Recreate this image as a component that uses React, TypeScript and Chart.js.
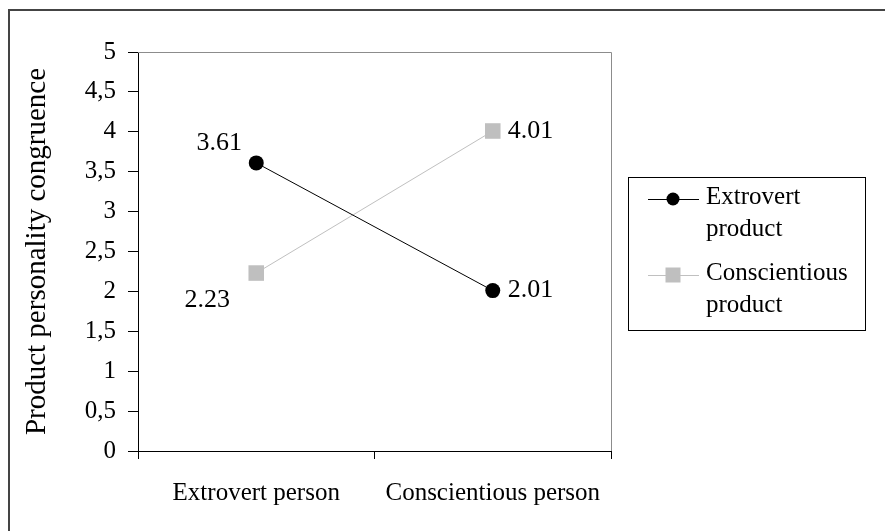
import React, { useEffect, useRef } from 'react';
import { Chart, registerables } from 'chart.js';

Chart.register(...registerables);

const categories = ['Extrovert person', 'Conscientious person'];
const seriesNames = ['Extrovert product', 'Conscientious product'];
const extrovertProduct = [3.61, 2.01];
const conscientiousProduct = [2.23, 4.01];
const yTickLabels = ['0', '0,5', '1', '1,5', '2', '2,5', '3', '3,5', '4', '4,5', '5'];
const axisTitle = 'Product personality congruence';

const FONT = "'Liberation Serif', 'Times New Roman', serif";

// label placement styling per dataset / point
const labelPlacement = [
  [{ dx: -37, dy: -20, align: 'center' }, { dx: 15, dy: 0, align: 'left' }],
  [{ dx: -49, dy: 27, align: 'center' }, { dx: 15, dy: 0, align: 'left' }],
];

const decorPlugin = {
  id: 'decor',
  beforeDraw(chart: any) {
    const ctx = chart.ctx;
    ctx.save();
    ctx.fillStyle = '#fff';
    ctx.fillRect(0, 0, chart.width, chart.height);
    ctx.strokeStyle = '#444';
    ctx.lineWidth = 2;
    ctx.beginPath();
    ctx.moveTo(9, chart.height);
    ctx.lineTo(9, 10);
    ctx.lineTo(chart.width, 10);
    ctx.stroke();
    ctx.restore();
  },
  beforeDatasetsDraw(chart: any) {
    const { ctx, chartArea } = chart;
    ctx.save();
    ctx.strokeStyle = '#8c8c8c';
    ctx.lineWidth = 1;
    ctx.beginPath();
    ctx.moveTo(chartArea.left, Math.round(chartArea.top) + 0.5);
    ctx.lineTo(Math.round(chartArea.right) + 0.5, Math.round(chartArea.top) + 0.5);
    ctx.lineTo(Math.round(chartArea.right) + 0.5, chartArea.bottom);
    ctx.stroke();
    ctx.restore();
  },
  afterDraw(chart: any) {
    const ctx = chart.ctx;
    ctx.save();
    ctx.font = `26px ${FONT}`;
    ctx.fillStyle = '#000';
    ctx.textBaseline = 'middle';
    chart.data.datasets.forEach((ds: any, di: number) => {
      const meta = chart.getDatasetMeta(di);
      meta.data.forEach((pt: any, i: number) => {
        const pl = labelPlacement[di][i];
        ctx.textAlign = pl.align;
        ctx.fillText(Number(ds.data[i]).toFixed(2), pt.x + pl.dx, pt.y + pl.dy);
      });
    });

    // legend box
    const bx = 628, by = 177, bw = 237, bh = 153;
    ctx.strokeStyle = '#000';
    ctx.lineWidth = 1;
    ctx.strokeRect(bx + 0.5, by + 0.5, bw, bh);
    ctx.font = `25px ${FONT}`;
    const rows = [199, 275];
    chart.data.datasets.forEach((ds: any, di: number) => {
      const y = rows[di];
      ctx.strokeStyle = ds.borderColor;
      ctx.lineWidth = 1;
      ctx.beginPath();
      ctx.moveTo(648, y + 0.5);
      ctx.lineTo(699, y + 0.5);
      ctx.stroke();
      ctx.fillStyle = ds.backgroundColor;
      if (ds.pointStyle === 'circle') {
        ctx.beginPath();
        ctx.arc(673, y, 6.5, 0, Math.PI * 2);
        ctx.fill();
      } else {
        ctx.fillRect(673 - 7.5, y - 7.5, 15, 15);
      }
      ctx.fillStyle = '#000';
      ctx.textAlign = 'left';
      const words = String(ds.label).split(' ');
      words.forEach((w: string, wi: number) => {
        ctx.fillText(w, 706, y - 2 + wi * 32);
      });
    });
    ctx.restore();
  },
};

export default function App() {
  const ref = useRef<HTMLCanvasElement>(null);
  useEffect(() => {
    document.body.style.margin = '0';
    const chart = new Chart(ref.current as HTMLCanvasElement, {
      type: 'line',
      data: {
        labels: categories,
        datasets: [
          {
            label: seriesNames[0],
            data: extrovertProduct,
            borderColor: '#000000',
            backgroundColor: '#000000',
            borderWidth: 1,
            pointStyle: 'circle',
            pointRadius: 7.5,
            pointBorderWidth: 0,
            pointBackgroundColor: '#000000',
          },
          {
            label: seriesNames[1],
            data: conscientiousProduct,
            borderColor: '#c0c0c0',
            backgroundColor: '#bfbfbf',
            borderWidth: 1,
            pointStyle: 'rect',
            pointRadius: 11,
            pointBorderWidth: 0,
            pointBackgroundColor: '#bfbfbf',
          },
        ],
      } as any,
      options: {
        animation: false,
        responsive: false,
        devicePixelRatio: 1,
        layout: { padding: { top: 52, right: 274, left: 0, bottom: 0 } },
        plugins: { legend: { display: false }, tooltip: { enabled: false } },
        font: { family: FONT } as any,
        scales: {
          x: {
            type: 'category',
            offset: true,
            afterFit: (s: any) => { s.height = 80; },
            grid: { offset: true, drawOnChartArea: false, drawTicks: true, tickLength: 8, color: '#000' },
            border: { display: true, color: '#000', width: 1 },
            ticks: { color: '#000', padding: 19, font: { family: FONT, size: 25 }, maxRotation: 0 },
          },
          y: {
            type: 'linear',
            min: 0,
            max: 5,
            afterFit: (s: any) => { s.width = 138; },
            grid: { drawOnChartArea: false, drawTicks: true, tickLength: 10, color: '#000' },
            border: { display: true, color: '#000', width: 1 },
            ticks: {
              stepSize: 0.5,
              autoSkip: false,
              color: '#000',
              padding: 12,
              font: { family: FONT, size: 25 },
              callback: (_v: any, i: number) => yTickLabels[i],
            },
            title: {
              display: true,
              text: axisTitle,
              color: '#000',
              font: { family: FONT, size: 29 },
              padding: { top: 20, bottom: 0 },
            },
          },
        },
      } as any,
      plugins: [decorPlugin],
    });
    return () => chart.destroy();
  }, []);
  return (
    <div style={{ position: 'absolute', left: 0, top: 0, width: 885, height: 531 }}>
      <canvas ref={ref} width={885} height={531} style={{ width: 885, height: 531, display: 'block' }} />
    </div>
  );
}
